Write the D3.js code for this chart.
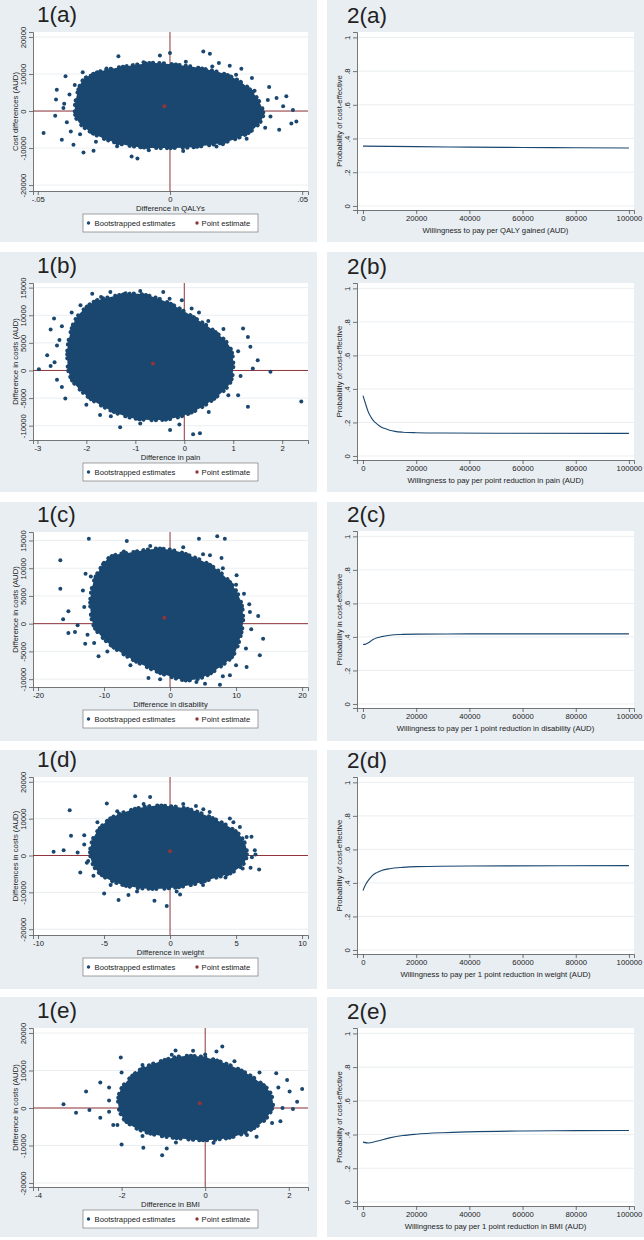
<!DOCTYPE html>
<html><head><meta charset="utf-8">
<script src="https://cdn.jsdelivr.net/npm/d3@7"></script>
<style>
body{margin:0;background:#fff}
svg{display:block}
text{font-family:"Liberation Sans",Arial,Helvetica,sans-serif;fill:#222}
</style>
</head><body><svg id="c" width="644" height="1240"></svg>
<script>
// ---------------- DATA ----------------
const scatterLabels = ["1(a)","1(b)","1(c)","1(d)","1(e)"];
const ceacLabels = ["2(a)","2(b)","2(c)","2(d)","2(e)"];
const scatterXTitles = ["Difference in QALYs","Difference in pain","Difference in disability","Difference in weight","Difference in BMI"];
const scatterYTitles = ["Cost differences (AUD)","Difference in costs (AUD)","Difference in costs (AUD)","Differences in costs (AUD)","Difference in costs (AUD)"];
const ceacXTitles = ["Willingness to pay per QALY gained (AUD)","Willingness to pay per point reduction in pain (AUD)","Willingness to pay per 1 point reduction in disability (AUD)","Willingness to pay per 1 point reduction in weight (AUD)","Willingness to pay per 1 point reduction in BMI (AUD)"];
const ceacYTitles = ["Probability of cost-effective","Probability of cost-effective","Probability in cost-effective","Probability of cost-effective","Probability of cost-effective"];
const legendLabels = ["Bootstrapped estimates","Point estimate"];

const scatterXTicks = [[-0.05,0,0.05],[-3,-2,-1,0,1,2],[-20,-10,0,10,20],[-10,-5,0,5,10],[-4,-2,0,2]];
const scatterXTickLabels = [["-.05","0",".05"],["-3","-2","-1","0","1","2"],["-20","-10","0","10","20"],["-10","-5","0","5","10"],["-4","-2","0","2"]];
const scatterYTicks = [[-20000,-10000,0,10000,20000],[-10000,-5000,0,5000,10000,15000],[-10000,-5000,0,5000,10000,15000],[-20000,-10000,0,10000,20000],[-20000,-10000,0,10000,20000]];
const ceacXTicks = [0,20000,40000,60000,80000,100000];
const ceacYTicks = [0,0.2,0.4,0.6,0.8,1];
const ceacYTickLabels = ["0",".2",".4",".6",".8","1"];

// dense bootstrap cloud outlines (data units)
const cloudA = [[-0.036,400],[-0.0346,5800],[-0.0327,8500],[-0.0264,10700],[-0.0164,12100],[-0.0063,13000],[0.0025,12500],[0.0113,11600],[0.0214,9800],[0.0289,6700],[0.034,2200],[0.0352,-1400],[0.0314,-5000],[0.0239,-7750],[0.0113,-9550],[-0.0013,-10000],[-0.0138,-9550],[-0.0239,-7750],[-0.0314,-5000],[-0.0352,-2300]];
const cloudB = [[-2.19,9700],[-1.85,12410],[-1.51,13310],[-1.04,13920],[-0.63,13310],[-0.22,11810],[0.18,9700],[0.59,7290],[0.93,4280],[1.0,660],[0.93,-2350],[0.66,-4760],[0.25,-7170],[-0.22,-8670],[-0.70,-8980],[-1.17,-8370],[-1.65,-6570],[-2.05,-4160],[-2.33,-1140],[-2.39,3070],[-2.33,6690]];
const cloudC = [[-9.07,12020],[-5.54,12920],[-2.02,13520],[0.5,13220],[3.53,12020],[6.55,10220],[9.07,7510],[10.58,4510],[11.08,900],[10.58,-2700],[9.57,-5710],[7.56,-7810],[5.04,-9620],[2.52,-10220],[-0.5,-9320],[-4.03,-7510],[-7.56,-5110],[-10.08,-2700],[-11.59,-300],[-12.09,3910],[-11.59,7510],[-10.58,9920]];
const cloudD = [[-5.54,6410],[-4.53,10020],[-3.02,12280],[-1.51,13400],[0,13400],[1.51,12500],[3.02,10470],[4.28,8220],[5.29,5510],[5.79,1900],[5.67,-1720],[4.79,-4420],[3.27,-6230],[1.51,-8040],[-0.25,-8940],[-2.02,-8940],[-3.53,-8040],[-4.79,-6230],[-5.67,-3520],[-6.05,90],[-5.92,3700]];
const cloudE = [[-1.88,7050],[-1.56,10180],[-1.08,12410],[-0.60,13750],[-0.13,13750],[0.35,12410],[0.83,10180],[1.23,7500],[1.54,4380],[1.62,800],[1.46,-2770],[1.15,-5450],[0.67,-7680],[0.03,-8570],[-0.60,-8130],[-1.16,-7230],[-1.64,-5450],[-1.96,-2770],[-2.08,800],[-2.04,4380]];

// scattered bootstrap estimates near the edge of the core
const fringeA = [[-0.040,2000],[-0.039,-3000],[-0.038,4500],[-0.036,7000],[-0.030,9500],[-0.024,11500],[-0.010,13200],[0.006,13300],[0.016,12000],[0.025,9800],[0.032,5500],[0.037,3000],[0.038,-1500],[0.036,-4500],[0.029,-7500],[0.020,-9000],[0.005,-10800],[-0.008,-10600],[-0.020,-9500],[-0.028,-8300],[-0.034,-6300]];
const fringeB = [[-2.6,4500],[-2.5,8000],[-2.3,10500],[-1.7,13300],[-1.2,14000],[-0.3,13000],[0.3,10500],[0.8,7500],[1.1,3500],[1.15,-1000],[0.9,-4500],[0.5,-7500],[-0.1,-9800],[-0.9,-9600],[-1.5,-8300],[-2.0,-6200],[-2.5,-3000],[-2.65,1500]];
const fringeC = [[-13,3000],[-12.5,-2000],[-12,8500],[-10,11000],[-7,13000],[-3,14000],[2,13800],[5,12500],[8,10000],[10,7000],[12,3500],[12.3,-1000],[11.5,-4500],[10,-7500],[8,-9500],[4,-10500],[-1.5,-10000],[-6,-7500],[-9.5,-5000],[-11.5,-3500]];
const fringeD = [[-6.5,5500],[-5.5,9000],[-4,12000],[-2,14000],[1,14000],[3,11800],[4.8,9000],[5.8,5000],[6.2,-500],[5.5,-3500],[4.2,-6000],[2.5,-8000],[0.5,-9800],[-2.5,-9800],[-4.5,-8000],[-5.8,-5500],[-6.3,-2000]];
const fringeE = [[-2.3,5500],[-2.0,9500],[-1.5,11500],[-0.8,14200],[0,14300],[0.7,12500],[1.3,9500],[1.75,5500],[1.85,0],[1.6,-4000],[1.0,-7200],[0.2,-9300],[-0.7,-9200],[-1.5,-7500],[-2.1,-4500],[-2.3,-1000]];

// isolated bootstrap estimates
const outliersA = [[-0.0478,-5950],[-0.0409,-7750],[-0.0434,-1260],[-0.0428,5770],[-0.0431,3100],[-0.0403,800],[-0.0375,-5500],[-0.0365,-9100],[-0.0327,-11200],[-0.0289,-10700],[-0.0145,-12250],[-0.0123,-12800],[0.0126,16100],[0.0151,15500],[0,15700],[-0.0038,15000],[-0.0195,14800],[0.0185,13000],[0.0226,12250],[0.027,11400],[0.031,8900],[0.0375,6500],[0.0403,3500],[0.044,4000],[0.0428,1260],[0.0465,300],[0.0478,-2800],[0.0459,-3400],[0.0413,-5050],[0.0176,-9550],[-0.0395,9400],[-0.033,10500]];
const outliersB = [[-2.97,240],[-2.8,2770],[-2.73,800],[-2.66,9400],[-2.73,7410],[-2.55,5500],[-2.43,-5060],[-2.12,11800],[-1.88,13900],[-1.51,14200],[-0.9,14400],[-0.43,14200],[-0.05,12700],[0.15,11200],[0.49,8980],[1.2,7590],[1.3,6080],[1.35,4280],[1.5,1870],[1.4,360],[1.76,-240],[2.39,-5600],[1.3,-6570],[0.32,-11380],[0.18,-11570],[-0.29,-10780],[-1.31,-10300],[-1.72,-8070],[-2.6,-1700],[1.1,-4500]];
const outliersC = [[-16.62,11420],[-16.62,6310],[-16.2,780],[-15.4,-1680],[-15.4,2220],[-14.4,-1500],[-12.3,15330],[-6.55,14900],[4.38,15330],[7.15,15750],[8.3,15330],[6.05,12320],[7.8,11840],[10.08,8710],[11.2,5410],[12.1,2100],[13.35,1380],[14.1,-2700],[13.6,-5710],[11.6,-7810],[9.07,-9320],[7.56,-11000],[5.3,-10820],[1.0,-9620],[-3.27,-9800],[-10.83,-5890],[-12.85,-3600],[-14.0,-300],[-13.2,6000],[-12.8,9000]];
const outliersD = [[-8.82,990],[-8.06,1440],[-7.6,12280],[-7.5,5330],[-7.0,810],[-6.8,-4600],[-4.99,-10290],[-3.9,-12100],[-3.15,-10750],[-2.64,16070],[-1.51,15890],[-4.79,14090],[-1.18,-12280],[-0.25,-13730],[0.76,-10570],[1.96,13450],[2.52,12550],[4.53,10020],[5.29,7770],[6.17,5060],[6.42,1440],[6.75,-3790],[6.1,-3340],[6.47,270],[-6.5,3000],[-6.2,-1500]];
const outliersE = [[-3.39,980],[-3.09,-1250],[-2.85,4380],[-2.77,-540],[-2.51,6790],[-2.51,-2590],[-2.02,13480],[-2.0,-9730],[-1.48,-10630],[-1.03,-12590],[-0.92,-10800],[-0.71,15360],[-0.29,15270],[0.27,15090],[0.41,16430],[1.23,-7680],[1.70,9290],[1.96,7500],[2.02,4380],[2.32,5090],[2.20,1700],[2.10,-270],[-2.3,2000],[-2.2,-4500],[1.8,-3500]];

const pointEstimates = [[-0.0021,1260],[-0.64,1265],[-0.86,1080],[0,1170],[-0.13,1250]];

// cost-effectiveness acceptability curves
const wtpA = [0,20000,40000,60000,80000,100000];
const probA = [0.355,0.352,0.349,0.347,0.345,0.344];
const wtpB = [0,1000,2000,3000,4000,5000,6000,7000,8000,10000,12000,15000,20000,30000,50000,100000];
const probB = [0.36,0.31,0.262,0.232,0.21,0.195,0.182,0.172,0.165,0.154,0.147,0.142,0.139,0.137,0.136,0.135];
const wtpC = [0,1000,2000,3000,4000,5000,7000,10000,15000,20000,40000,100000];
const probC = [0.355,0.357,0.365,0.376,0.386,0.393,0.402,0.41,0.415,0.417,0.418,0.418];
const wtpD = [0,1000,2000,3000,4000,5000,7000,10000,15000,20000,40000,100000];
const probD = [0.355,0.39,0.415,0.435,0.45,0.46,0.474,0.485,0.493,0.497,0.501,0.503];
const wtpE = [0,2000,5000,10000,15000,20000,30000,40000,60000,80000,100000];
const probE = [0.355,0.350,0.36,0.38,0.394,0.402,0.411,0.416,0.421,0.423,0.424];

// ---------------- LAYOUT ----------------
const clouds = [cloudA,cloudB,cloudC,cloudD,cloudE];
const fringes = [fringeA,fringeB,fringeC,fringeD,fringeE];
const outliers = [outliersA,outliersB,outliersC,outliersD,outliersE];
const wtps = [wtpA,wtpB,wtpC,wtpD,wtpE];
const probs = [probA,probB,probC,probD,probE];

const rows = [
  {top:0,   bot:242,  sTop:32,   sBot:191,  cTop:32,   cBot:210},
  {top:252, bot:492,  sTop:283,  sBot:440,  cTop:283,  cBot:460},
  {top:502, bot:741,  sTop:532,  sBot:687,  cTop:531,  cBot:708},
  {top:750, bot:989,  sTop:777,  sBot:935,  cTop:777,  cBot:954},
  {top:997, bot:1237, sTop:1028, sBot:1187, cTop:1028, cBot:1206}
];
const sXDom = [[-0.0518,0.0522],[-3.09,2.527],[-20.76,20.9],[-10.38,10.45],[-4.12,2.46]];
const sYDom = [[-21600,21350],[-12590,15840],[-11420,16530],[-21580,21310],[-21070,21340]];
const cXDom = [-2250,101900];
const cYDom = [-0.024,1.032];

const BG = "#e8eef2", NAVY = "#1a476f", MAROON = "#90353b", GRID = "#e4eaee", AXIS = "#555";
const FS = 7.7, DOT = 2.0;

const svg = d3.select("#c");

function styleAxis(g){
  g.select(".domain").attr("stroke",AXIS).attr("stroke-width",0.8);
  g.selectAll(".tick line").attr("stroke",AXIS).attr("stroke-width",0.8);
  g.selectAll(".tick text").attr("font-size",FS).attr("fill","#222")
    .attr("font-family","'Liberation Sans',Arial,sans-serif");
}
function yAxisRot(g){
  g.selectAll(".tick text").attr("transform","rotate(-90)").attr("x",0).attr("y",-7)
    .attr("dy",0).attr("text-anchor","middle");
}

// ---------------- SCATTER PANELS ----------------
rows.forEach((r,i)=>{
  const L = 0, R = 317, px0 = 33, px1 = 308;
  const g = svg.append("g");
  g.append("rect").attr("x",L).attr("y",r.top).attr("width",R-L).attr("height",r.bot-r.top).attr("fill",BG);
  g.append("rect").attr("x",px0).attr("y",r.sTop).attr("width",px1-px0).attr("height",r.sBot-r.sTop).attr("fill","#fff");
  const x = d3.scaleLinear().domain(sXDom[i]).range([px0,px1]);
  const y = d3.scaleLinear().domain(sYDom[i]).range([r.sBot,r.sTop]);
  g.selectAll(".grid").data(scatterYTicks[i]).enter().append("line")
    .attr("x1",px0).attr("x2",px1).attr("y1",d=>y(d)).attr("y2",d=>y(d))
    .attr("stroke",GRID).attr("stroke-width",0.8);
  g.append("line").attr("x1",x(0)).attr("x2",x(0)).attr("y1",r.sTop).attr("y2",r.sBot).attr("stroke",MAROON).attr("stroke-width",1);
  g.append("line").attr("x1",px0).attr("x2",px1).attr("y1",y(0)).attr("y2",y(0)).attr("stroke",MAROON).attr("stroke-width",1);
  const line = d3.line().x(d=>x(d[0])).y(d=>y(d[1])).curve(d3.curveCatmullRomClosed.alpha(0.5));
  g.append("path").datum(clouds[i]).attr("d",line).attr("fill",NAVY).attr("stroke","none");
  // uneven dotted rim along the edge of the dense core
  g.append("path").datum(clouds[i]).attr("d",line).attr("fill","none").attr("stroke",NAVY)
    .attr("stroke-width",4.2).attr("stroke-linecap","round").attr("stroke-dasharray","0.1 3.6 0.1 6.2 0.1 4.4 0.1 8.0 0.1 3.9");
  g.selectAll(".fr").data(fringes[i]).enter().append("circle")
    .attr("cx",d=>x(d[0])).attr("cy",d=>y(d[1])).attr("r",DOT).attr("fill",NAVY);
  g.selectAll(".out").data(outliers[i]).enter().append("circle")
    .attr("cx",d=>x(d[0])).attr("cy",d=>y(d[1])).attr("r",DOT).attr("fill",NAVY);
  g.append("circle").attr("cx",x(pointEstimates[i][0])).attr("cy",y(pointEstimates[i][1])).attr("r",2).attr("fill",MAROON);
  const ax = g.append("g").attr("transform",`translate(0,${r.sBot})`)
    .call(d3.axisBottom(x).tickValues(scatterXTicks[i]).tickFormat((d,k)=>scatterXTickLabels[i][k]).tickSizeOuter(0).tickSize(4).tickPadding(2));
  styleAxis(ax);
  const ay = g.append("g").attr("transform",`translate(${px0},0)`)
    .call(d3.axisLeft(y).tickValues(scatterYTicks[i]).tickFormat(d=>String(d)).tickSizeOuter(0).tickSize(4));
  styleAxis(ay); yAxisRot(ay);
  g.append("text").attr("x",37).attr("y",r.sTop-10).attr("font-size",22.5).attr("fill","#111").text(scatterLabels[i]);
  g.append("text").attr("x",(px0+px1)/2).attr("y",r.sBot+20).attr("text-anchor","middle").attr("font-size",FS).text(scatterXTitles[i]);
  g.append("text").attr("transform",`translate(18,${(r.sTop+r.sBot)/2}) rotate(-90)`).attr("text-anchor","middle").attr("font-size",FS).text(scatterYTitles[i]);
  const ly = r.sBot+23;
  const lg = g.append("g");
  lg.append("rect").attr("x",83).attr("y",ly).attr("width",175).attr("height",18).attr("fill","#fff").attr("stroke","#666").attr("stroke-width",0.6);
  lg.append("circle").attr("cx",88.5).attr("cy",ly+9).attr("r",1.7).attr("fill",NAVY);
  lg.append("text").attr("x",94.5).attr("y",ly+12).attr("font-size",FS).text(legendLabels[0]);
  lg.append("circle").attr("cx",197).attr("cy",ly+9).attr("r",1.7).attr("fill",MAROON);
  lg.append("text").attr("x",201.5).attr("y",ly+12).attr("font-size",FS).text(legendLabels[1]);
});

// ---------------- CEAC PANELS ----------------
rows.forEach((r,i)=>{
  const L = 327, R = 644, px0 = 357, px1 = 634;
  const g = svg.append("g");
  g.append("rect").attr("x",L).attr("y",r.top).attr("width",R-L).attr("height",r.bot-r.top).attr("fill",BG);
  g.append("rect").attr("x",px0).attr("y",r.cTop).attr("width",px1-px0).attr("height",r.cBot-r.cTop).attr("fill","#fff");
  const x = d3.scaleLinear().domain(cXDom).range([px0,px1]);
  const y = d3.scaleLinear().domain(cYDom).range([r.cBot,r.cTop]);
  g.selectAll(".grid").data(ceacYTicks).enter().append("line")
    .attr("x1",px0).attr("x2",px1).attr("y1",d=>y(d)).attr("y2",d=>y(d))
    .attr("stroke",GRID).attr("stroke-width",0.8);
  const pts = wtps[i].map((w,k)=>[w,probs[i][k]]);
  g.append("path").datum(pts)
    .attr("d",d3.line().x(d=>x(d[0])).y(d=>y(d[1])).curve(d3.curveMonotoneX))
    .attr("fill","none").attr("stroke",NAVY).attr("stroke-width",1.1);
  const ax = g.append("g").attr("transform",`translate(0,${r.cBot})`)
    .call(d3.axisBottom(x).tickValues(ceacXTicks).tickFormat(d=>String(d)).tickSizeOuter(0).tickSize(4).tickPadding(2));
  styleAxis(ax);
  const ay = g.append("g").attr("transform",`translate(${px0},0)`)
    .call(d3.axisLeft(y).tickValues(ceacYTicks).tickFormat((d,k)=>ceacYTickLabels[k]).tickSizeOuter(0).tickSize(4));
  styleAxis(ay); yAxisRot(ay);
  g.append("text").attr("x",347).attr("y",r.cTop-9).attr("font-size",22.5).attr("fill","#111").text(ceacLabels[i]);
  g.append("text").attr("x",(px0+px1)/2).attr("y",r.cBot+23).attr("text-anchor","middle").attr("font-size",FS).text(ceacXTitles[i]);
  g.append("text").attr("transform",`translate(342,${(r.cTop+r.cBot)/2}) rotate(-90)`).attr("text-anchor","middle").attr("font-size",FS).text(ceacYTitles[i]);
});
</script></body></html>
